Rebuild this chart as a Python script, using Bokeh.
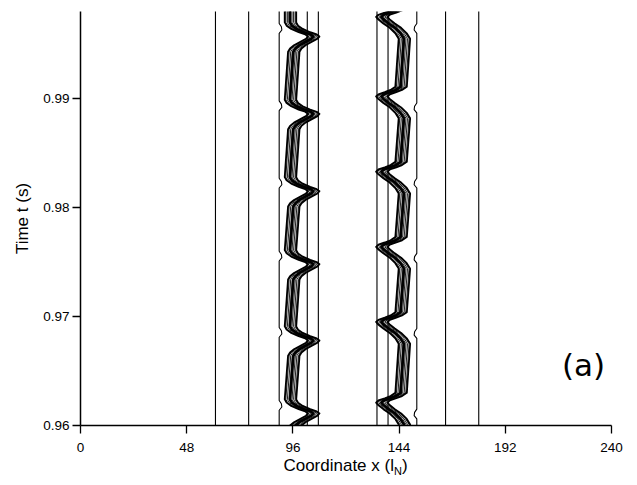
import numpy as np
from bokeh.plotting import figure
from bokeh.models import Range1d, FixedTicker, Label, PrintfTickFormatter, Div
from bokeh.layouts import column
from bokeh.embed import file_html
from bokeh.resources import INLINE

# ---- data ----
x_ticks = [0, 48, 96, 144, 192, 240]
t_ticks = [0.96, 0.97, 0.98, 0.99]
t_min, t_max = 0.96, 0.998

straight_lines_x = [61, 76, 102.5, 107.5, 134, 139, 165, 180]

left_kink_t = [0.9611, 0.9678, 0.9748, 0.9815, 0.9886, 0.9957]
left_before_x, left_after_x, left_tip_x = 96.5, 95.0, 105.5
right_kink_t = [0.9621, 0.9695, 0.9764, 0.9833, 0.9902, 0.9975]
right_before_x, right_after_x, right_tip_x = 146.5, 145.0, 136.3
left_edge_x = 89.8
right_edge_x = 152.0

# kink shapes (time offset, fraction of excursion toward the tip)
left_kink_dt = [-0.0014, -0.0011, -0.0008, -0.0005, -0.0002, 0.0, 0.0002, 0.0004, 0.0007, 0.0010, 0.0013]
left_kink_f = [0.0, 0.1, 0.3, 0.6, 0.9, 1.0, 0.88, 0.6, 0.28, 0.08, 0.0]
right_kink_dt = [-0.0020, -0.0015, -0.0010, -0.0006, -0.0002, 0.0, 0.0002, 0.0004, 0.0006, 0.0009]
right_kink_f = [0.0, 0.15, 0.4, 0.68, 0.92, 1.0, 0.88, 0.55, 0.25, 0.0]

# wavy boundary bumps (time offset from kink, shift in x)
left_edge_dt = [0.0003, 0.0006, 0.0009, 0.0012]
left_edge_dx = [0.0, 1.2, 1.0, 0.0]
right_edge_dt = [-0.0015, -0.0012, -0.0009, -0.0006]
right_edge_dx = [0.0, -1.2, -1.0, 0.0]

band_offsets = [-2.2, -1.5, -0.8, -0.1, 0.6, 1.3, 2.0]
band_edges = [-2.7, 2.5]


def band_path(kinks, dts, fs, xb, xa, xt):
    ts = [t_min - 0.003]
    xs = [xb]
    for tb in kinks:
        for d, f in zip(dts, fs):
            base = xb if d < 0 else xa
            ts.append(tb + d)
            xs.append(base + f * (xt - base))
    ts.append(t_max + 0.003)
    xs.append(xa)
    return np.array(xs), np.array(ts)


def edge_path(kinks, dts, dxs, x0):
    ts = [t_min - 0.003]
    xs = [x0]
    for tb in kinks:
        for d, dx in zip(dts, dxs):
            ts.append(tb + d)
            xs.append(x0 + dx)
    ts.append(t_max + 0.003)
    xs.append(x0)
    return np.array(xs), np.array(ts)


p = figure(width=637, height=455,
           x_range=Range1d(0, 240), y_range=Range1d(t_min, t_max),
           output_backend="svg", toolbar_location=None,
           min_border_left=80, min_border_right=26,
           min_border_top=11, min_border_bottom=30, margin=0)

p.xgrid.visible = False
p.ygrid.visible = False
p.outline_line_color = None
p.background_fill_color = "white"
p.border_fill_color = "white"

# straight vertical contour lines
for xv in straight_lines_x:
    p.line([xv, xv], [t_min - 0.003, t_max + 0.003], line_color="black", line_width=1.1)

# wavy boundaries
ex, et = edge_path(left_kink_t, left_edge_dt, left_edge_dx, left_edge_x)
p.line(ex, et, line_color="black", line_width=1.1)
ex, et = edge_path(right_kink_t, right_edge_dt, right_edge_dx, right_edge_x)
p.line(ex, et, line_color="black", line_width=1.1)

# dense bands
lx, lt = band_path(left_kink_t, left_kink_dt, left_kink_f, left_before_x, left_after_x, left_tip_x)
rx, rt = band_path(right_kink_t, right_kink_dt, right_kink_f, right_before_x, right_after_x, right_tip_x)
for bx, bt in [(lx, lt), (rx, rt)]:
    for o in band_offsets:
        p.line(bx + o, bt, line_color="#222222", line_width=1.0, line_join="round")
    for o in band_edges:
        p.line(bx + o, bt, line_color="black", line_width=1.8, line_join="round")
    p.line(bx - 0.3, bt, line_color="black", line_width=2.6, line_join="round")

# axes
p.xaxis.ticker = FixedTicker(ticks=x_ticks)
p.yaxis.ticker = FixedTicker(ticks=t_ticks)
p.yaxis.formatter = PrintfTickFormatter(format="%.2f")
for ax in (p.xaxis, p.yaxis):
    ax.axis_line_color = "black"
    ax.axis_line_width = 1.5
    ax.major_tick_line_color = "black"
    ax.major_tick_line_width = 1.3
    ax.major_tick_in = 0
    ax.major_tick_out = 8
    ax.minor_tick_line_color = None
    ax.major_label_text_font = "Liberation Sans"
    ax.major_label_text_font_size = "13.5px"
    ax.major_label_text_color = "black"
p.xaxis.major_label_standoff = 9
p.yaxis.major_label_standoff = 3

p.yaxis.axis_label = "Time t (s)"
p.yaxis.axis_label_text_font = "Liberation Sans"
p.yaxis.axis_label_text_font_size = "17px"
p.yaxis.axis_label_text_font_style = "normal"
p.yaxis.axis_label_text_color = "black"
p.yaxis.axis_label_standoff = 8

# panel label
px_per_unit = 531 / 240.0
p.add_layout(Label(x=(583 - 80) / px_per_unit, y=t_min + 61 * (t_max - t_min) / 414.0,
                   text="(a)", text_align="center",
                   text_baseline="middle", text_font="DejaVu Sans",
                   text_font_size="31px", text_color="black"))

title = Div(text='Coordinate x (l<sub style="font-size:11px">N</sub>)',
            width=531, height=30, margin=(0, 0, 0, 80),
            styles={"font-family": "Liberation Sans", "font-size": "17px",
                    "text-align": "center", "color": "black", "line-height": "22px"})

layout = column(p, title, spacing=0)
open("out.html", "w").write(file_html(layout, INLINE))
